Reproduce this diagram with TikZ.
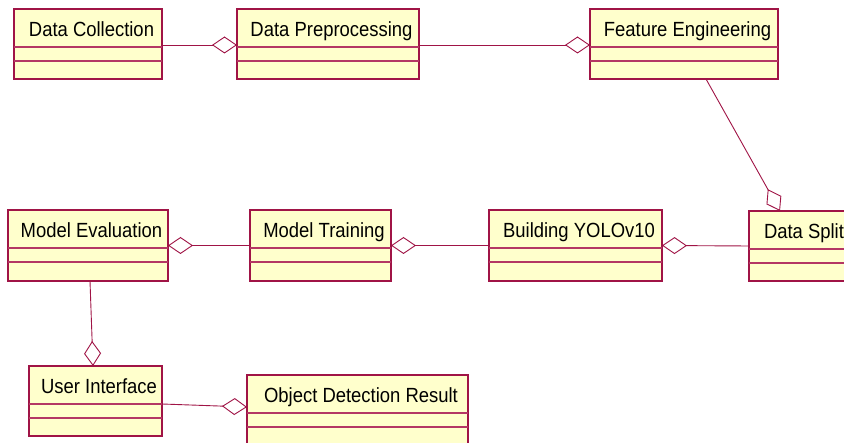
\documentclass[tikz,border=0pt]{standalone}
\usepackage{fontspec}
\setmainfont{Liberation Sans}[FakeStretch=0.9]
\usetikzlibrary{arrows.meta}

\definecolor{roseline}{RGB}{160,20,70}
\definecolor{rosesep}{RGB}{180,55,100}
\definecolor{rosefill}{RGB}{255,255,204}

\tikzset{
  classbox/.style={draw=roseline, fill=rosefill, line width=1.3pt,
    rectangle, inner sep=0pt, outer sep=0pt},
  classname/.style={anchor=base, inner sep=0pt,
    font=\fontsize{20.5}{24}\selectfont},
  sepline/.style={draw=rosesep, line width=1.2pt},
  aggregation/.style={draw=roseline, line width=0.9pt,
    -{Diamond[open, length=25pt, width=17pt, line width=0.9pt]}},
}

% \umlclass{name}{left}{top}{right}{bottom}{title}
\newcommand\umlclass[6]{%
  \node[classbox, minimum width={(#4-#2)*1pt}, minimum height={(#5-#3)*1pt}]
    (#1) at ({(#2+#4)/2},{(#3+#5)/2}) {};
  \draw[sepline] ([yshift=-38pt]#1.north west) -- ([yshift=-38pt]#1.north east);
  \draw[sepline] ([yshift=-52pt]#1.north west) -- ([yshift=-52pt]#1.north east);
  \node[classname] (#1-title) at ([xshift=3.5pt,yshift=-27.5pt]#1.north) {#6};
}

\begin{document}
\begin{tikzpicture}[x=1pt, y=-1pt]
  \clip (0,0) rectangle (844,443);
  \fill[white] (0,0) rectangle (844,443);

  % top row
  \umlclass{collect}{14}{9}{162}{79}{Data Collection}
  \umlclass{preproc}{237}{9}{419}{79}{Data Preprocessing}
  \umlclass{feature}{590}{9}{778}{79}{Feature Engineering}

  % middle row
  \umlclass{evaluate}{8}{210}{168}{281}{Model Evaluation}
  \umlclass{train}{250}{210}{391}{281}{Model Training}
  \umlclass{yolo}{489}{210}{662}{281}{Building YOLOv10}
  \umlclass{split}{749}{211}{852}{281}{Data Split}

  % bottom row
  \umlclass{ui}{29}{366}{162}{436}{User Interface}
  \umlclass{result}{247}{375}{468}{445}{Object Detection Result}

  % aggregation links
  \draw[aggregation] ([yshift=-1pt]collect.east) -- ([yshift=-1pt]preproc.west);
  \draw[aggregation] ([yshift=-1pt]preproc.east) -- ([yshift=-1pt]feature.west);
  \draw[aggregation] ([xshift=116pt]feature.south west) -- ([xshift=31pt]split.north west);
  \draw[aggregation] (split.west) -- (yolo.east);
  \draw[aggregation] (yolo.west) -- (train.east);
  \draw[aggregation] (train.west) -- (evaluate.east);
  \draw[aggregation] ([xshift=82pt]evaluate.south west) -- ([xshift=64pt]ui.north west);
  \draw[aggregation] ([yshift=-3pt]ui.east) -- ([yshift=3pt]result.west);
\end{tikzpicture}
\end{document}
